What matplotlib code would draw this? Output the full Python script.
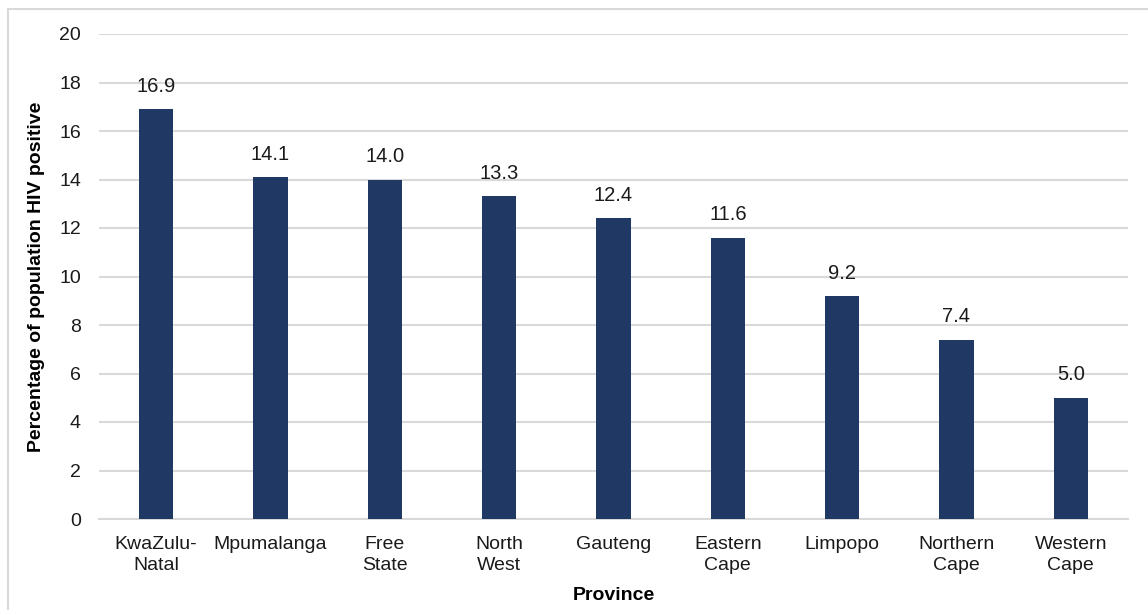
import matplotlib.pyplot as plt
from matplotlib.patches import Rectangle

provinces = ['KwaZulu-\nNatal', 'Mpumalanga', 'Free\nState', 'North\nWest', 'Gauteng',
             'Eastern\nCape', 'Limpopo', 'Northern\nCape', 'Western\nCape']
hiv_pct = [16.9, 14.1, 14.0, 13.3, 12.4, 11.6, 9.2, 7.4, 5.0]
yticks = [0, 2, 4, 6, 8, 10, 12, 14, 16, 18, 20]

plt.rcParams['font.family'] = ['Liberation Sans', 'DejaVu Sans']

fig = plt.figure(figsize=(11.48, 6.10), dpi=100)
ax = fig.add_axes([99/1148, 1 - 519/610, (1128 - 99)/1148, (519 - 34)/610])

# light grey frame round the chart, cut off at right and bottom
fig.patches.append(Rectangle((8/1148, -0.05), 1.2, 1 - 9/610 + 0.05,
                             transform=fig.transFigure, fill=False,
                             edgecolor='#d9d9d9', linewidth=1.5))

x = range(len(provinces))
bars = ax.bar(x, hiv_pct, width=0.3, color='#203864', zorder=3)
for b, v in zip(bars, hiv_pct):
    ax.text(b.get_x() + b.get_width()/2, v + 0.55, '%.1f' % v,
            ha='center', va='bottom', fontsize=14.5, color='#1a1a1a')

ax.set_xlim(-0.5, len(provinces) - 0.5)
ax.set_ylim(0, 20)
ax.set_yticks(yticks)
ax.set_xticks(list(x))
ax.set_xticklabels(provinces, fontsize=14, color='#1a1a1a', linespacing=1.35)
ax.tick_params(axis='y', labelsize=14, colors='#1a1a1a', length=0, pad=13)
ax.tick_params(axis='x', length=0, pad=12)
ax.grid(axis='y', color='#d9d9d9', linewidth=1.5, zorder=0)
for s in ['top', 'right', 'left']:
    ax.spines[s].set_visible(False)
ax.spines['bottom'].set_color('#d9d9d9')
ax.spines['bottom'].set_linewidth(1.5)

ax.set_xlabel('Province', fontsize=14, fontweight='bold', labelpad=9)
ax.set_ylabel('Percentage of population HIV positive', fontsize=14,
              fontweight='bold', labelpad=10)

fig.savefig('out.png', dpi=100)
